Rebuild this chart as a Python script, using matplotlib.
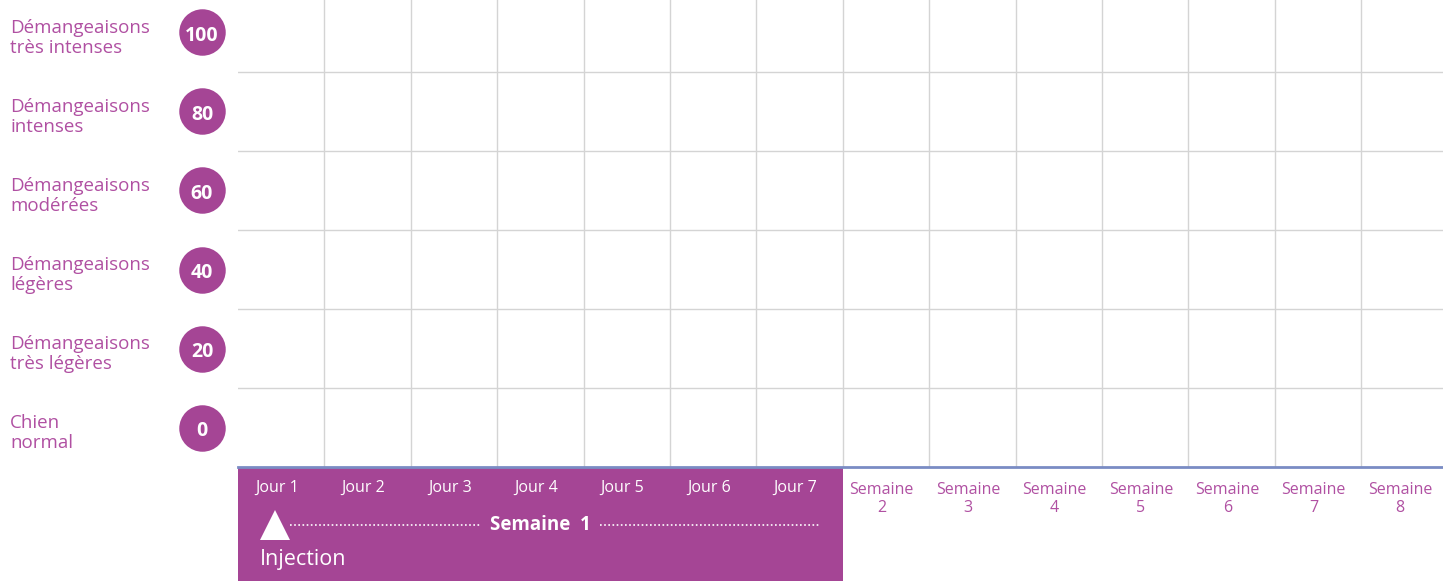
import matplotlib.pyplot as plt
from matplotlib.patches import Rectangle

# niveaux de démangeaison (de bas en haut)
scores = [0, 20, 40, 60, 80, 100]
score_labels = ["Chien\nnormal",
                "Démangeaisons\ntrès légères",
                "Démangeaisons\nlégères",
                "Démangeaisons\nmodérées",
                "Démangeaisons\nintenses",
                "Démangeaisons\ntrès intenses"]
# colonnes de temps
jours = ["Jour 1", "Jour 2", "Jour 3", "Jour 4", "Jour 5", "Jour 6", "Jour 7"]
semaines = ["Semaine\n2", "Semaine\n3", "Semaine\n4", "Semaine\n5",
            "Semaine\n6", "Semaine\n7", "Semaine\n8"]

PURPLE = "#a54595"
TEXT = "#b050a2"
GRID = "#d4d4d4"
AXIS = "#7a8cc4"

plt.rcParams['font.family'] = ['Open Sans', 'DejaVu Sans']

W, H = 1443, 581
fig = plt.figure(figsize=(W / 100, H / 100), dpi=100)
left, bottom_px, top_px = 238, 467, -7
ncol = len(jours) + len(semaines)
col_w = 86.4
ax = fig.add_axes([left / W, (H - bottom_px) / H,
                   ncol * col_w / W, (bottom_px - top_px) / H])
ax.set_xlim(0, ncol)
ax.set_ylim(0, len(scores))
for s in ax.spines.values():
    s.set_visible(False)
ax.set_xticks([])
ax.set_yticks([])

# grille
for i in range(1, ncol):
    ax.axvline(i, color=GRID, lw=1.0, zorder=1)
for j in range(1, len(scores) + 1):
    ax.axhline(j, color=GRID, lw=1.0, zorder=1)
ax.axhline(0, color=AXIS, lw=2, zorder=3, clip_on=False)

ax_h = bottom_px - top_px
ax_w = ncol * col_w
ytr = ax.get_yaxis_transform()
xtr = ax.get_xaxis_transform()

# pastilles + libellés à gauche
ycent = [i + 0.5 for i in range(len(scores))]
cx = (202 - left) / ax_w
ax.scatter([cx] * len(scores), ycent, s=1120,
           color=PURPLE, transform=ytr, clip_on=False, zorder=4, linewidths=0)
for yc, sc, lab in zip(ycent, scores, score_labels):
    ax.text(cx, yc - 0.01, str(sc), transform=ytr,
            ha='center', va='center_baseline', color='white', fontsize=14,
            fontweight='bold', zorder=5)
    ax.text((10 - left) / ax_w, yc - 0.07, lab, transform=ytr,
            ha='left', va='center', color=TEXT, fontsize=13.5,
            linespacing=1.12)

# bandeau semaine 1
band_h = (H - bottom_px) / ax_h
ax.add_patch(Rectangle((0, -band_h), len(jours), band_h, transform=xtr,
                       color=PURPLE, clip_on=False, zorder=2, lw=0))

for i, j in enumerate(jours):
    ax.text(i + 0.45, -21 / ax_h, j, transform=xtr, ha='center', va='center',
            color='white', fontsize=11.5)
for i, s in enumerate(semaines):
    ax.text(len(jours) + i + 0.45, -32 / ax_h, s, transform=xtr, ha='center',
            va='center', color=TEXT, fontsize=11.5, linespacing=1.2)

ymid = -58 / ax_h
ax.plot([0.43], [ymid], marker='^', ms=22, color='white', transform=xtr,
        clip_on=False, zorder=5, markeredgewidth=0)
ax.plot([0.60, 2.80], [ymid, ymid], color='white', lw=1.2, ls=(0, (1, 1.5)),
        transform=xtr, clip_on=False, zorder=5)
ax.plot([4.19, 6.74], [ymid, ymid], color='white', lw=1.2, ls=(0, (1, 1.5)),
        transform=xtr, clip_on=False, zorder=5)
ax.text(3.5, ymid, "Semaine  1", transform=xtr, ha='center', va='center',
        color='white', fontsize=13.5, fontweight='bold', zorder=5)
ax.text(0.255, -93 / ax_h, "Injection", transform=xtr, ha='left',
        va='center', color='white', fontsize=15.5, zorder=5)

fig.savefig("out.png", dpi=100)
